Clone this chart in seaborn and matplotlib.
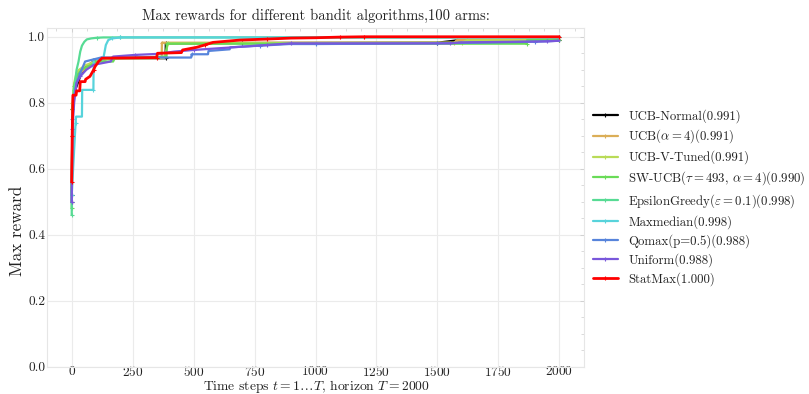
import matplotlib
matplotlib.use("Agg")
import matplotlib.pyplot as plt
from matplotlib.ticker import AutoMinorLocator
import seaborn as sns
import pandas as pd

# ---- data: best reward found so far, per algorithm -------------------------
labels = [
    "UCB-Normal(0.991)",
    r"UCB($\alpha=4$)(0.991)",
    "UCB-V-Tuned(0.991)",
    r"SW-UCB($\tau=493$, $\alpha=4$)(0.990)",
    r"EpsilonGreedy($\varepsilon=0.1$)(0.998)",
    "Maxmedian(0.998)",
    "Qomax(p=0.5)(0.988)",
    "Uniform(0.988)",
    "StatMax(1.000)",
]

ucb_normal_t = [0, 3, 8, 15, 25, 30, 40, 60, 90, 120, 160, 385, 386, 700, 1500, 1580, 2000]
ucb_normal_r = [0.52, 0.78, 0.82, 0.84, 0.86, 0.87, 0.89, 0.91, 0.925, 0.93, 0.935, 0.935, 0.98, 0.981, 0.982, 0.989, 0.991]

ucb_alpha_t = [0, 3, 10, 20, 35, 50, 80, 120, 165, 369, 370, 1570, 1580, 2000]
ucb_alpha_r = [0.50, 0.78, 0.84, 0.87, 0.89, 0.90, 0.92, 0.93, 0.935, 0.935, 0.982, 0.982, 0.99, 0.991]

ucb_v_t = [0, 3, 10, 20, 30, 60, 100, 160, 380, 395, 1600, 1620, 2000]
ucb_v_r = [0.50, 0.80, 0.86, 0.89, 0.90, 0.915, 0.925, 0.935, 0.936, 0.98, 0.982, 0.989, 0.991]

sw_ucb_t = [0, 3, 10, 20, 40, 80, 100, 170, 175, 389, 390, 1867, 1868, 2000]
sw_ucb_r = [0.48, 0.78, 0.85, 0.88, 0.90, 0.915, 0.925, 0.925, 0.935, 0.94, 0.979, 0.979, 0.99, 0.990]

eps_t = [0, 1, 3, 6, 10, 15, 20, 28, 35, 42, 52, 62, 80, 103, 130, 200, 2000]
eps_r = [0.46, 0.55, 0.70, 0.80, 0.84, 0.87, 0.90, 0.925, 0.955, 0.973, 0.985, 0.992, 0.995, 0.997, 0.998, 0.998, 0.998]

maxmedian_t = [0, 16, 18, 42, 43, 89, 90, 129, 135, 140, 150, 165, 200, 2000]
maxmedian_r = [0.52, 0.74, 0.758, 0.758, 0.839, 0.839, 0.932, 0.932, 0.955, 0.975, 0.99, 0.995, 0.998, 0.998]

qomax_t = [0, 3, 10, 20, 35, 55, 120, 490, 492, 559, 561, 648, 650, 771, 893, 1000, 1500, 1900, 2000]
qomax_r = [0.50, 0.75, 0.82, 0.86, 0.89, 0.925, 0.937, 0.937, 0.947, 0.947, 0.957, 0.962, 0.968, 0.973, 0.978, 0.978, 0.98, 0.985, 0.988]

uniform_t = [0, 3, 10, 20, 35, 60, 90, 160, 170, 260, 350, 420, 500, 600, 700, 800, 900, 1550, 1600, 1950, 2000]
uniform_r = [0.50, 0.72, 0.80, 0.86, 0.88, 0.90, 0.915, 0.925, 0.94, 0.945, 0.948, 0.955, 0.96, 0.965, 0.97, 0.975, 0.98, 0.98, 0.983, 0.986, 0.988]

statmax_t = [0, 2, 5, 18, 20, 33, 35, 55, 57, 75, 90, 96, 110, 124, 348, 352, 450, 455, 512, 545, 580, 690, 800, 900, 1000, 1100, 1200, 2000]
statmax_r = [0.56, 0.70, 0.823, 0.823, 0.836, 0.836, 0.864, 0.864, 0.871, 0.88, 0.90, 0.91, 0.925, 0.935, 0.937, 0.95, 0.952, 0.96, 0.968, 0.975, 0.983, 0.99, 0.993, 0.996, 0.997, 0.999, 1.0, 1.0]

series_t = [ucb_normal_t, ucb_alpha_t, ucb_v_t, sw_ucb_t, eps_t, maxmedian_t, qomax_t, uniform_t, statmax_t]
series_r = [ucb_normal_r, ucb_alpha_r, ucb_v_r, sw_ucb_r, eps_r, maxmedian_r, qomax_r, uniform_r, statmax_r]

x_ticks = [0, 250, 500, 750, 1000, 1250, 1500, 1750, 2000]
y_ticks = [0.0, 0.2, 0.4, 0.6, 0.8, 1.0]

# ---- style -----------------------------------------------------------------
sns.set_theme(style="whitegrid")
plt.rcParams["font.family"] = ["cmr10", "DejaVu Serif"]
plt.rcParams["mathtext.fontset"] = "cm"
plt.rcParams["axes.formatter.use_mathtext"] = True
plt.rcParams["axes.unicode_minus"] = False

hls = sns.hls_palette(10)
colors = ["black"] + list(hls[1:8]) + ["red"]
widths = [1.6] * 8 + [2.0]

fig = plt.figure(figsize=(8.09, 3.94), dpi=100)
ax = fig.add_axes([0.0585, 0.0693, 0.663, 0.860])

for label, t, r, c, lw in zip(labels, series_t, series_r, colors, widths):
    df = pd.DataFrame({"t": t, "reward": r})
    sns.lineplot(data=df, x="t", y="reward", ax=ax, estimator=None, sort=False,
                 color=c, lw=lw, label=label, marker="+", markersize=3,
                 markeredgewidth=0.8, markeredgecolor=c, markerfacecolor=c,
                 markevery=0.1)

ax.set_xlim(-100, 2100)
ax.set_ylim(0, 1.027)
ax.set_xticks(x_ticks)
ax.set_yticks(y_ticks)
ax.set_yticklabels([f"{v:.1f}" for v in y_ticks])
ax.xaxis.set_minor_locator(AutoMinorLocator(4))
ax.yaxis.set_minor_locator(AutoMinorLocator(4))
ax.tick_params(which="both", direction="in", top=True, right=True,
               colors="#cccccc", labelcolor="#222222", labelsize=9.6, pad=1.5)
ax.tick_params(axis="x", which="major", pad=-1.5)
ax.tick_params(which="major", length=3, width=0.6)
ax.tick_params(which="minor", length=2, width=0.5)
ax.grid(True, which="major", color="#ebebeb", lw=0.8)
for s in ax.spines.values():
    s.set_color("#e6e6e6")
    s.set_linewidth(0.8)

ax.set_title("Max rewards for different bandit algorithms,100 arms:", fontsize=10.5,
             color="#222222", pad=6)
ax.set_xlabel(r"Time steps $t = 1 \ldots T$, horizon $T = 2000$", fontsize=9.8,
              color="#222222")
ax.xaxis.label.set_va("center")
ax.xaxis.set_label_coords(0.502, -0.058)
ax.set_ylabel("Max reward", fontsize=12.3, color="#222222")
ax.yaxis.set_label_coords(-0.042, 0.40)

leg = ax.legend(loc="center left", bbox_to_anchor=(0.995, 0.5), frameon=False,
                fontsize=9.2, handlelength=2.0, handletextpad=0.8, labelspacing=0.4)
for txt in leg.get_texts():
    txt.set_color("#222222")

fig.savefig("out.png", dpi=100)
